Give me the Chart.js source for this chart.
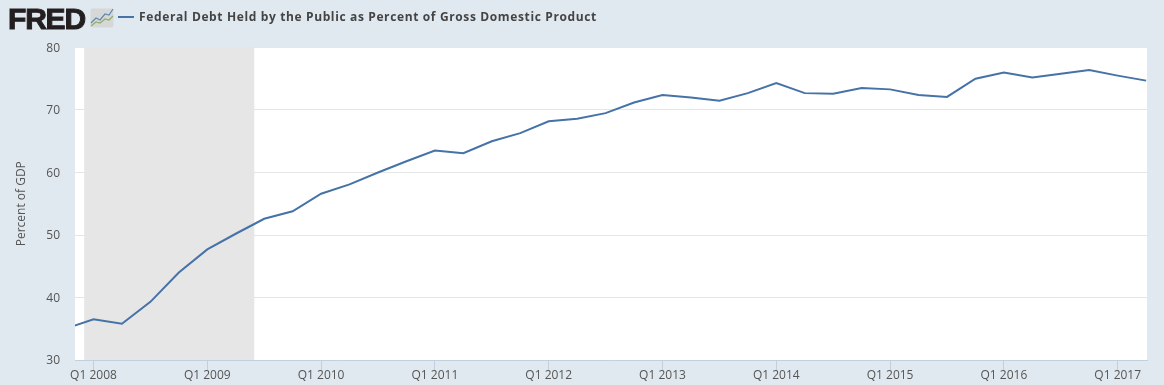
<!DOCTYPE html>
<html>
<head>
<meta charset="utf-8">
<title>Federal Debt Held by the Public</title>
<script src="https://cdn.jsdelivr.net/npm/chart.js@4"></script>
<style>
    html, body { margin: 0; padding: 0; background: #e1e9f0; }
    #wrap { position: relative; width: 1164px; height: 385px; overflow: hidden; }
    #chart { position: absolute; left: 0; top: 0; }
    #logo { position: absolute; left: 8px; top: 1px; font: 900 30px/36px "Liberation Sans", sans-serif; color: #231f20; letter-spacing: -1.2px; -webkit-text-stroke: 1px #231f20; }
    #icon { position: absolute; left: 90px; top: 8px; }
    #swatch { position: absolute; left: 118px; top: 16px; width: 16px; height: 2px; background: #4572a7; }
    #title { position: absolute; left: 139px; top: 8px; font: 700 12px/18px "Open Sans", sans-serif; color: #444; letter-spacing: 0.63px; white-space: nowrap; }
</style>
</head>
<body>
<div id="wrap">
    <canvas id="chart" width="1164" height="385"></canvas>
    <div id="logo">FRED</div>
    <svg id="icon" width="24" height="20" viewBox="0 0 24 20">
        <rect x="0.5" y="0.5" width="23" height="19" rx="2" fill="#d5d8d6"/>
        <polyline points="1,15 6,10 10,12 15,6 19,7 23,1" fill="none" stroke="#5d87b5" stroke-width="1.2"/>
        <polyline points="1,18 6,14 10,15 15,11 19,12 23,8" fill="none" stroke="#8fae6b" stroke-width="1.2"/>
    </svg>
    <div id="swatch"></div>
    <div id="title">Federal Debt Held by the Public as Percent of Gross Domestic Product</div>
</div>
<script>
const seriesName = "Federal Debt Held by the Public as Percent of Gross Domestic Product";
const yTitle = "Percent of GDP";

// quarters counted from Q1 2008, so Q4 2007 is -1
const firstQuarter = -1;
const debtPct = [
    35.0, 36.5, 35.8, 39.3, 44.0, 47.7, 50.2, 52.6, 53.8,
    56.6, 58.1, 60.0, 61.8, 63.5, 63.1, 65.0, 66.3,
    68.2, 68.6, 69.5, 71.2, 72.4, 72.0, 71.5, 72.7,
    74.3, 72.7, 72.6, 73.5, 73.3, 72.4, 72.1, 75.0,
    76.0, 75.2, 75.8, 76.4, 75.5, 74.7
];
const xTickQuarters = [0, 4, 8, 12, 16, 20, 24, 28, 32, 36];
const xTickLabels = ["Q1 2008", "Q1 2009", "Q1 2010", "Q1 2011", "Q1 2012", "Q1 2013", "Q1 2014", "Q1 2015", "Q1 2016", "Q1 2017"];
const yTicks = [30, 40, 50, 60, 70, 80];
const recession = [-0.33, 5.66];

document.getElementById("title").textContent = seriesName;

const linePoints = debtPct.map((v, i) => ({ x: firstQuarter + i, y: v }));
const bandPoints = recession.map((q) => ({ x: q, y: 80 }));

const plotWhite = {
    id: "plotWhite",
    beforeDraw(chart) {
        const a = chart.chartArea;
        chart.ctx.fillStyle = "#ffffff";
        chart.ctx.fillRect(a.left, a.top, a.width, a.height);
    },
};

new Chart(document.getElementById("chart").getContext("2d"), {
    type: "line",
    data: {
        datasets: [
            {
                label: seriesName,
                data: linePoints,
                borderColor: "#4572a7",
                borderWidth: 2,
                pointRadius: 0,
                tension: 0,
                order: 1,
            },
            {
                label: "Recession",
                data: bandPoints,
                borderWidth: 0,
                pointRadius: 0,
                fill: "start",
                backgroundColor: "#e6e6e6",
                order: 2,
            },
        ],
    },
    options: {
        responsive: false,
        animation: false,
        layout: { padding: { top: 47.5, right: 17, left: 0, bottom: 0 } },
        plugins: { legend: { display: false }, title: { display: false }, tooltip: { enabled: false } },
        scales: {
            x: {
                type: "linear",
                min: -0.65,
                max: 37.03,
                afterBuildTicks(axis) {
                    axis.ticks = xTickQuarters.map((q) => ({ value: q }));
                },
                afterFit(axis) { axis.height = 25; },
                grid: {
                    drawOnChartArea: false,
                    drawTicks: true,
                    tickLength: 10,
                    color: "#c0d0e0",
                },
                border: { color: "#c0d0e0" },
                ticks: {
                    autoSkip: false,
                    maxRotation: 0,
                    padding: -2,
                    color: "#555",
                    font: { family: "Open Sans", size: 12 },
                    callback: (v) => xTickLabels[xTickQuarters.indexOf(v)],
                },
            },
            y: {
                min: 30,
                max: 80,
                afterBuildTicks(axis) {
                    axis.ticks = yTicks.map((v) => ({ value: v }));
                },
                afterFit(axis) { axis.width = 75; },
                grid: { color: "#e6e6e6", drawTicks: false },
                border: { display: false },
                title: {
                    display: true,
                    text: yTitle,
                    color: "#555",
                    font: { family: "Open Sans", size: 12 },
                    padding: { top: 14, bottom: 0 },
                },
                ticks: {
                    padding: 15,
                    labelOffset: 1,
                    color: "#555",
                    font: { family: "Open Sans", size: 12 },
                },
            },
        },
    },
    plugins: [plotWhite],
});
</script>
</body>
</html>
